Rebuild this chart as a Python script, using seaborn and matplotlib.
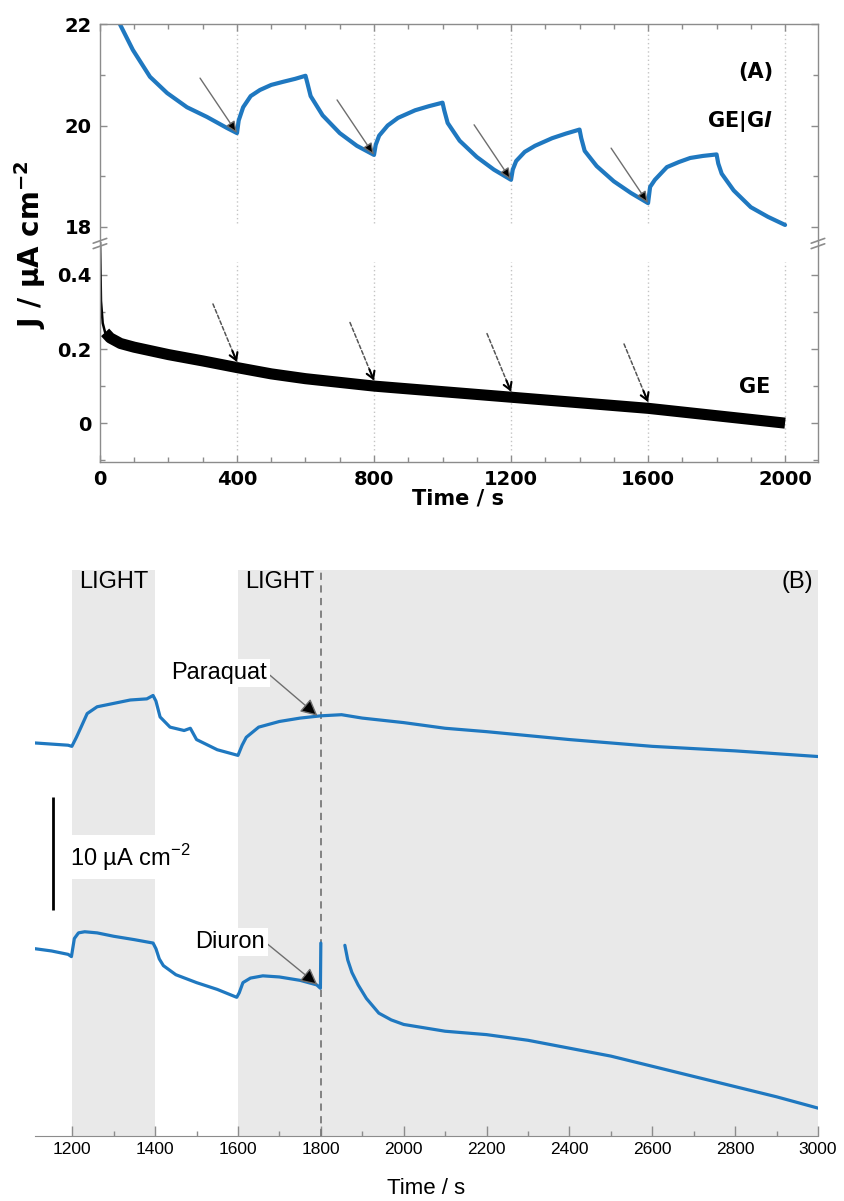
import matplotlib
matplotlib.use("Agg")
import matplotlib.pyplot as plt
import matplotlib.ticker as mtick
from matplotlib.lines import Line2D
import seaborn as sns

sns.set_style("ticks")
plt.rcParams['font.family'] = ['DejaVu Sans']
plt.rcParams['text.color'] = 'black'
plt.rcParams['xtick.labelcolor'] = 'black'
plt.rcParams['ytick.labelcolor'] = 'black'
plt.rcParams['mathtext.fontset'] = 'custom'
plt.rcParams['mathtext.it'] = 'DejaVu Sans:italic:bold'
plt.rcParams['mathtext.rm'] = 'DejaVu Sans:bold'
plt.rcParams['mathtext.bf'] = 'DejaVu Sans:bold'
plt.rcParams['mathtext.sf'] = 'Liberation Sans'

AZUL = '#1f78c0'
CINZA = '#8c8c8c'
SOMBRA = '#e9e9e9'
FONTE_B = ['Liberation Sans', 'DejaVu Sans']
FONTE_TICK_B = ['Liberation Sans Narrow', 'Liberation Sans', 'DejaVu Sans']

# ---- Painel A: GE|Gl (em cima) e GE (em baixo) ----
t_gel = [30, 58, 96, 146, 196, 254, 312, 371, 400,
         405, 418, 440, 467, 500, 534, 570, 600,
         605, 615, 650, 700, 750, 800,
         805, 815, 840, 870, 920, 960, 1000,
         1005, 1015, 1050, 1100, 1150, 1200,
         1205, 1215, 1240, 1270, 1320, 1360, 1400,
         1405, 1415, 1450, 1500, 1550, 1600,
         1606, 1620, 1655, 1690, 1723, 1760, 1800,
         1805, 1815, 1850, 1900, 1950, 2000]
j_gel = [22.6, 22.0, 21.49, 20.96, 20.64, 20.36, 20.17, 19.95, 19.85,
         20.1, 20.36, 20.58, 20.70, 20.80, 20.86, 20.92, 20.98,
         20.85, 20.58, 20.2, 19.85, 19.6, 19.42,
         19.62, 19.8, 20.0, 20.15, 20.3, 20.38, 20.45,
         20.3, 20.05, 19.7, 19.38, 19.13, 18.93,
         19.13, 19.3, 19.48, 19.6, 19.75, 19.84, 19.92,
         19.75, 19.5, 19.2, 18.9, 18.67, 18.47,
         18.79, 18.93, 19.18, 19.28, 19.36, 19.4, 19.43,
         19.25, 19.05, 18.72, 18.39, 18.2, 18.04]

t_ge = [0, 3, 8, 15, 30, 60, 100, 150, 200, 300, 400, 500, 600,
        800, 1000, 1200, 1400, 1600, 1800, 2000]
j_ge = [0.5, 0.33, 0.27, 0.245, 0.23, 0.215, 0.205, 0.195, 0.185, 0.168,
        0.15, 0.133, 0.12, 0.1, 0.085, 0.07, 0.055, 0.04, 0.02, 0.0]

setas_t = [400, 800, 1200, 1600]
setas_gel = [19.85, 19.42, 18.93, 18.47]
setas_ge = [0.165, 0.115, 0.085, 0.057]

# ---- Painel B: Paraquat (em cima) e Diuron (em baixo), offset arbitrário ----
t_paraquat = [1110, 1150, 1190, 1199, 1210, 1220, 1236, 1260, 1300, 1340,
              1380, 1395, 1402, 1412, 1436, 1470, 1485, 1500, 1550, 1590,
              1600, 1610, 1620, 1650, 1700, 1750, 1800, 1850, 1900, 2000,
              2100, 2200, 2400, 2600, 2800, 3000]
j_paraquat = [34.5, 34.4, 34.3, 34.2, 35.0, 35.8, 37.1, 37.7, 38.0, 38.3,
              38.4, 38.7, 38.2, 36.8, 35.9, 35.6, 35.8, 34.8, 33.9, 33.5,
              33.4, 34.3, 35.0, 35.9, 36.4, 36.7, 36.9, 37.0, 36.7, 36.3,
              35.8, 35.5, 34.8, 34.2, 33.8, 33.3]

t_diuron_1 = [1110, 1150, 1190, 1198, 1205, 1215, 1230, 1260, 1300, 1350,
              1395, 1402, 1410, 1420, 1450, 1500, 1550, 1597, 1603, 1612,
              1630, 1660, 1700, 1750, 1790, 1799, 1800]
j_diuron_1 = [16.3, 16.1, 15.8, 15.6, 17.2, 17.7, 17.8, 17.7, 17.4, 17.1,
              16.8, 16.3, 15.4, 14.8, 14.0, 13.3, 12.7, 12.0, 12.4, 13.3,
              13.7, 13.9, 13.8, 13.5, 13.1, 12.8, 16.8]
t_diuron_2 = [1858, 1865, 1875, 1890, 1910, 1940, 1970, 2000, 2100, 2200,
              2300, 2400, 2500, 2600, 2700, 2800, 2900, 3000]
j_diuron_2 = [16.6, 15.3, 14.2, 13.1, 11.9, 10.6, 10.0, 9.6, 9.0, 8.7,
              8.2, 7.5, 6.8, 5.9, 5.0, 4.1, 3.2, 2.2]

faixas_luz = [(1200, 1400), (1600, 3000)]
escala_t = 1154
escala_j = (19.7, 29.7)   # barra de 10 µA cm-2


def estilo_eixo_a(ax):
    ax.set_xlim(0, 2096)
    ax.xaxis.set_major_locator(mtick.MultipleLocator(400))
    ax.xaxis.set_minor_locator(mtick.MultipleLocator(100))
    ax.tick_params(which='both', direction='in', color=CINZA, width=1,
                   left=True, right=True, labelsize=14, pad=6)
    ax.tick_params(which='major', length=5)
    ax.tick_params(which='minor', length=3.5)
    for spine in ax.spines.values():
        spine.set_color(CINZA)
        spine.set_linewidth(1)
    for lbl in ax.get_xticklabels() + ax.get_yticklabels():
        lbl.set_fontweight('bold')
    ax.set_xlabel("")
    ax.set_ylabel("")


def plot_painel_a(fig):
    ax_sup = fig.add_axes([0.1183, 0.7985, 0.8497, 0.1815])
    ax_inf = fig.add_axes([0.1183, 0.6153, 0.8497, 0.1832])

    for t in range(400, 2001, 400):
        ax_sup.axvline(t, ymin=0.087, color='#c4c4c4', ls=(0, (1, 2)), lw=1, zorder=0)
        ax_inf.axvline(t, ymin=0.055, ymax=0.91, color='#c4c4c4', ls=(0, (1, 2)), lw=1, zorder=0)

    sns.lineplot(x=t_gel, y=j_gel, color=AZUL, lw=3, ax=ax_sup)
    sns.lineplot(x=t_ge[:5], y=j_ge[:5], color='black', lw=1.8, ax=ax_inf)
    sns.lineplot(x=t_ge[3:], y=j_ge[3:], color='black', lw=8,
                 solid_capstyle='butt', ax=ax_inf)

    ax_sup.set_ylim(17.704, 22.0)
    ax_sup.set_yticks([18, 20, 22])
    ax_sup.yaxis.set_minor_locator(mtick.MultipleLocator(1))
    ax_inf.set_ylim(-0.105, 0.489)
    ax_inf.set_yticks([0, 0.2, 0.4])
    ax_inf.set_yticklabels(["0", "0.2", "0.4"])
    ax_inf.yaxis.set_minor_locator(mtick.MultipleLocator(0.1))

    estilo_eixo_a(ax_sup)
    estilo_eixo_a(ax_inf)
    ax_sup.spines['bottom'].set_visible(False)
    ax_sup.tick_params(which='both', bottom=False, top=True, labelbottom=False)
    ax_inf.spines['top'].set_visible(False)
    ax_inf.tick_params(which='both', top=False)

    # Setas nas mudanças claro/escuro
    for t, j in zip(setas_t, setas_gel):
        ax_sup.annotate("", xy=(t, j), xytext=(-26.6, 39.6), textcoords='offset points',
                        arrowprops=dict(arrowstyle='-|>,head_length=0.7,head_width=0.3',
                                        fc='black', ec='#6e6e6e', lw=1,
                                        shrinkA=0, shrinkB=0))
    for t, j in zip(setas_t, setas_ge):
        ax_inf.annotate("", xy=(t, j), xytext=(-17.3, 41.8), textcoords='offset points',
                        arrowprops=dict(arrowstyle='-', ls=(0, (2.5, 1.5)), color='#555555',
                                        lw=1.1, shrinkA=0, shrinkB=0))
        ax_inf.annotate("", xy=(t, j), xytext=(-3.3, 8), textcoords='offset points',
                        arrowprops=dict(arrowstyle='->,head_length=0.5,head_width=0.3',
                                        color='black', lw=1.5, shrinkA=0, shrinkB=0))

    ax_sup.text(1915, 21.05, "(A)", fontsize=15, fontweight='bold', ha='center', va='center')
    ax_sup.text(1869, 20.07, r"GE|G$l$", fontsize=15, fontweight='bold', ha='center', va='center')
    ax_inf.text(1912, 0.097, "GE", fontsize=15, fontweight='bold', ha='center', va='center')

    # Marcas de quebra do eixo y
    for xf in [0.1183, 0.1183 + 0.8497]:
        for dy in [-0.0035, 0.0010]:
            fig.add_artist(Line2D([xf - 0.008, xf + 0.008], [0.7985 + dy - 0.002, 0.7985 + dy + 0.002],
                                  transform=fig.transFigure, color=CINZA, lw=1.2))

    fig.text(0.0355, 0.796, r"J / µA cm$^{-2}$", rotation=90, fontsize=20, fontweight='bold',
             ha='center', va='center')
    fig.text(0.5426, 0.585, "Time / s", fontsize=15, fontweight='bold', ha='center', va='center')


def plot_painel_b(fig):
    ax = fig.add_axes([0.0414, 0.0541, 0.9266, 0.4713])

    for ini, fim in faixas_luz:
        ax.axvspan(ini, fim, color=SOMBRA, lw=0, zorder=0)
    ax.axvline(1800, color='#7a7a7a', ls=(0, (4, 3)), lw=1.3, zorder=1)

    sns.lineplot(x=t_paraquat, y=j_paraquat, color=AZUL, lw=2.3, ax=ax)
    sns.lineplot(x=t_diuron_1, y=j_diuron_1, color=AZUL, lw=2.3, ax=ax)
    sns.lineplot(x=t_diuron_2, y=j_diuron_2, color=AZUL, lw=2.3, ax=ax)

    ax.vlines(escala_t, escala_j[0], escala_j[1], color='black', lw=2)
    ax.text(1195, 24.4, r"10 µA cm$^{\mathsf{-2}}$", family=FONTE_B, fontsize=17,
            ha='left', va='center', bbox=dict(fc='white', ec='none', pad=5))

    ax.text(1300, 48.7, "LIGHT", family=FONTE_B, fontsize=17, ha='center', va='center')
    ax.text(1700, 48.7, "LIGHT", family=FONTE_B, fontsize=17, ha='center', va='center')
    ax.text(2950, 48.7, "(B)", family=FONTE_B, fontsize=17, ha='center', va='center')

    seta = dict(arrowstyle='-|>,head_length=0.6,head_width=0.3', fc='black', ec='#6e6e6e',
                lw=1, shrinkA=0, shrinkB=0, relpos=(1, 0.5))
    ax.annotate("Paraquat", xy=(1792, 36.9), xytext=(1555, 40.7), family=FONTE_B,
                fontsize=17, ha='center', va='center', arrowprops=seta,
                bbox=dict(fc='white', ec='none', pad=2))
    ax.annotate("Diuron", xy=(1792, 13.1), xytext=(1581, 16.9), family=FONTE_B,
                fontsize=17, ha='center', va='center', arrowprops=seta,
                bbox=dict(fc='white', ec='none', pad=2))

    ax.set_xlim(1110, 3000)
    ax.set_ylim(-0.27, 49.8)
    ax.xaxis.set_major_locator(mtick.MultipleLocator(200))
    ax.xaxis.set_minor_locator(mtick.MultipleLocator(100))
    ax.set_yticks([])
    ax.tick_params(which='both', direction='in', color=CINZA, width=1, pad=4, labelsize=12.5)
    ax.tick_params(which='major', length=7)
    ax.tick_params(which='minor', length=3.5)
    for lbl in ax.get_xticklabels():
        lbl.set_family(FONTE_TICK_B)
    for spine in ["top", "right", "left"]:
        ax.spines[spine].set_visible(False)
    ax.spines['bottom'].set_color(CINZA)
    ax.set_xlabel("")
    ax.set_ylabel("")
    fig.text(0.5047, 0.0108, "Time / s", family=FONTE_B, fontsize=16, ha='center', va='center')


fig = plt.figure(figsize=(8.45, 12.01), dpi=100)
plot_painel_a(fig)
plot_painel_b(fig)
fig.savefig("out.png", dpi=100)
